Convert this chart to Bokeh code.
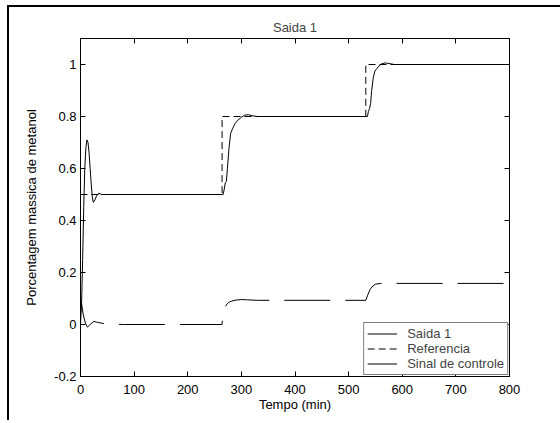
from bokeh.plotting import figure
from bokeh.models import (LinearAxis, FixedTicker, CustomJSTickFormatter, Legend, LegendItem, Range1d)
from bokeh.embed import file_html
from bokeh.resources import INLINE

# ---------------- data ----------------
saida_t = [0, 2, 4, 6, 8, 10, 12, 14, 16, 18, 20, 22, 24, 27, 30, 34, 40, 50,
           264, 266, 268, 270, 272, 274, 277, 280, 284, 288, 293, 300, 306, 313, 320, 330,
           532, 535, 537, 539, 541, 543, 546, 549, 553, 557, 562, 568, 575, 585, 800]
saida_y = [0.0, 0.08, 0.25, 0.45, 0.60, 0.68, 0.71, 0.70, 0.66, 0.60, 0.54, 0.49, 0.47, 0.48, 0.495, 0.505, 0.50, 0.50,
           0.50, 0.50, 0.52, 0.545, 0.55, 0.60, 0.68, 0.735, 0.755, 0.772, 0.785, 0.797, 0.805, 0.807, 0.803, 0.80,
           0.80, 0.80, 0.82, 0.83, 0.85, 0.90, 0.95, 0.975, 0.985, 0.995, 1.003, 1.006, 1.004, 1.0, 1.0]

ref_t = [0, 264, 264, 532, 532, 800]
ref_y = [0.5, 0.5, 0.8, 0.8, 1.0, 1.0]

ctrl_t = [0, 2, 5, 9, 13, 18, 25, 32, 40, 50, 80, 264, 265, 268, 272, 276, 282, 290, 300, 310, 330,
          532, 535, 540, 545, 550, 560, 800]
ctrl_y = [0.09, 0.08, 0.04, 0.005, -0.01, 0.0, 0.012, 0.008, 0.005, 0.002, 0.0, 0.0, 0.035, 0.06, 0.075, 0.085, 0.09, 0.094, 0.096, 0.095, 0.093,
          0.093, 0.11, 0.135, 0.148, 0.155, 0.158, 0.158]

x_ticks = [0, 100, 200, 300, 400, 500, 600, 700, 800]
y_ticks = [-0.2, 0, 0.2, 0.4, 0.6, 0.8, 1]
y_tick_labels = ["-0.2", "0", "0.2", "0.4", "0.6", "0.8", "1"]

title_text = "Saida 1"
x_label = "Tempo (min)"
y_label = "Porcentagem massica de metanol"
legend_labels = ["Saida 1", "Referencia", "Sinal de controle"]

FONT = "Liberation Sans"
FS = "13px"

W, H = 560, 420
p = figure(width=W, height=H, output_backend="svg", toolbar_location=None,
           x_range=Range1d(0, 800), y_range=Range1d(-0.2, 1.1),
           min_border_left=80, min_border_right=51, min_border_top=38, min_border_bottom=44,
           title=title_text)
# outer figure frame (top and left lines) painted behind a transparent border area
p.styles = {"box-shadow": "inset 7px 5px 0 0 white, inset 9px 7px 0 0 black",
            "background-color": "white"}

p.title.align = "center"
p.title.text_font = FONT
p.title.text_font_size = FS
p.title.text_font_style = "normal"
p.title.standoff = 7

p.grid.visible = False
p.outline_line_color = "black"
p.outline_line_width = 1
p.background_fill_color = "white"
p.border_fill_color = None

def style_axis(ax):
    ax.axis_line_color = "black"
    ax.major_tick_in = 5
    ax.major_tick_out = 0
    ax.minor_tick_line_color = None
    ax.major_tick_line_color = "black"
    ax.major_label_text_font = FONT
    ax.major_label_text_font_size = FS
    ax.major_label_text_color = "black"
    ax.axis_label_text_font = FONT
    ax.axis_label_text_font_size = FS
    ax.axis_label_text_font_style = "normal"
    ax.axis_label_text_color = "black"

xa = p.xaxis[0]
xa.ticker = FixedTicker(ticks=x_ticks)
xa.axis_label = x_label
style_axis(xa)
xa.major_label_standoff = 8
xa.axis_label_standoff = 0

ya = p.yaxis[0]
ya.ticker = FixedTicker(ticks=y_ticks)
ya.major_label_overrides = {t: l for t, l in zip(y_ticks, y_tick_labels)}
ya.axis_label = y_label
style_axis(ya)
ya.major_label_standoff = 4
ya.axis_label_standoff = 12

blank = CustomJSTickFormatter(code="return ''")
top = LinearAxis(ticker=FixedTicker(ticks=x_ticks), formatter=blank)
style_axis(top)
top.major_label_standoff = 0
p.add_layout(top, "above")
right = LinearAxis(ticker=FixedTicker(ticks=y_ticks), formatter=blank)
style_axis(right)
right.major_label_standoff = 0
p.add_layout(right, "right")

r1 = p.line(saida_t, saida_y, line_color="black", line_width=1)
r2 = p.line(ref_t, ref_y, line_color="black", line_width=1, line_dash="7 4")
r3 = p.line(ctrl_t, ctrl_y, line_color="black", line_width=1, line_dash="46 15")

legend = Legend(items=[LegendItem(label=legend_labels[0], renderers=[r1]),
                       LegendItem(label=legend_labels[1], renderers=[r2]),
                       LegendItem(label=legend_labels[2], renderers=[r3])],
                location="bottom_right")
legend.margin = 1
legend.padding = 3
legend.spacing = 0
legend.glyph_width = 30
legend.glyph_height = 13
legend.label_height = 13
legend.label_standoff = 10
legend.label_text_font = FONT
legend.label_text_font_size = FS
legend.border_line_color = "black"
legend.border_line_width = 1
legend.background_fill_alpha = 1
p.add_layout(legend)

open("out.html", "w").write(file_html(p, INLINE))
